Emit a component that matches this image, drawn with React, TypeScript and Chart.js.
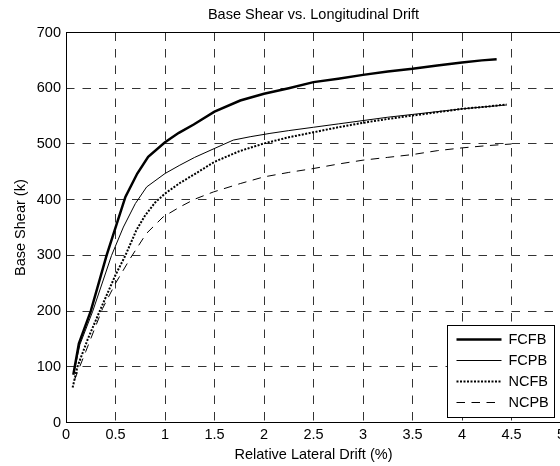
import React, { useEffect, useRef } from "react";
import { Chart, registerables } from "chart.js";

Chart.register(...registerables);

const TITLE = "Base Shear vs. Longitudinal Drift";
const X_TITLE = "Relative Lateral Drift (%)";
const Y_TITLE = "Base Shear (k)";

const SERIES_NAMES = ["FCFB", "FCPB", "NCFB", "NCPB"];

const X_MIN = 0;
const X_MAX = 5;
const X_STEP = 0.5;
const Y_MIN = 0;
const Y_MAX = 700;
const Y_STEP = 100;

const fcfbDrift = [0.074, 0.13, 0.25, 0.41, 0.6, 0.72, 0.83, 1.0, 1.14, 1.29, 1.5, 1.76, 2.0, 2.25, 2.5, 2.75, 3.0, 3.25, 3.5, 3.75, 4.0, 4.2, 4.35];
const fcfbShear = [86, 142, 200, 300, 405, 447, 477, 503, 520, 535, 558, 578, 590, 600, 611, 617, 624, 630, 635, 641, 646, 650, 652];

const fcpbDrift = [0.08, 0.14, 0.27, 0.46, 0.58, 0.7, 0.815, 1.0, 1.15, 1.3, 1.5, 1.69, 1.86, 2.06, 2.25, 2.5, 2.75, 3.0, 3.25, 3.5, 3.75, 4.0, 4.25, 4.45];
const fcpbShear = [90, 140, 200, 300, 351, 393, 423, 447, 462, 476, 492, 507, 513, 519, 524, 530, 536, 542, 548, 553, 558, 563, 567, 570];

const ncfbDrift = [0.067, 0.115, 0.22, 0.34, 0.5, 0.6, 0.71, 0.8, 0.9, 1.0, 1.15, 1.3, 1.5, 1.75, 2.0, 2.25, 2.5, 2.75, 3.0, 3.25, 3.5, 3.75, 4.0, 4.25, 4.45];
const ncfbShear = [63, 100, 150, 200, 265, 300, 345, 372, 395, 411, 430, 446, 468, 487, 501, 512, 521, 530, 538, 545, 551, 557, 563, 567, 571];

const ncpbDrift = [0.084, 0.2, 0.37, 0.5, 0.65, 0.81, 0.98, 1.15, 1.3, 1.49, 1.76, 2.0, 2.25, 2.5, 2.75, 3.0, 3.25, 3.5, 3.75, 4.0, 4.25, 4.5];
const ncpbShear = [76, 128, 205, 250, 295, 339, 369, 387, 401, 414, 429, 441, 449, 456, 464, 471, 476, 481, 488, 493, 497, 500];

const FONT = "'Liberation Sans', Arial, Helvetica, sans-serif";
const FS = 14.5;

function toPoints(xs: number[], ys: number[]) {
  return xs.map((x, i) => ({ x, y: ys[i] }));
}

const framePlugin = {
  id: "frameBox",
  afterDatasetsDraw(chart: any) {
    const { ctx, chartArea: a } = chart;
    ctx.save();
    ctx.setLineDash([]);
    ctx.strokeStyle = "#000";
    ctx.lineWidth = 1;
    const l = Math.floor(a.left) + 0.5;
    const t = Math.floor(a.top) + 0.5;
    const r = Math.floor(a.right) + 0.5;
    const b = Math.floor(a.bottom) + 0.5;
    ctx.strokeRect(l, t, r - l, b - t);
    ctx.restore();
  },
};

const legendPlugin = {
  id: "boxLegend",
  afterDraw(chart: any) {
    const { ctx, chartArea: a } = chart;
    const bx = Math.floor(a.right) - 114 + 0.5;
    const by = Math.floor(a.bottom) - 97 + 0.5;
    const bw = 107;
    const bh = 92;
    ctx.save();
    ctx.setLineDash([]);
    ctx.fillStyle = "#fff";
    ctx.fillRect(bx, by, bw, bh);
    ctx.strokeStyle = "#000";
    ctx.lineWidth = 1;
    ctx.strokeRect(bx, by, bw, bh);
    chart.data.datasets.forEach((ds: any, i: number) => {
      const y = Math.floor(by + 13.5 + i * 21) + 0.5;
      ctx.save();
      ctx.strokeStyle = ds.borderColor;
      ctx.lineWidth = ds.borderWidth;
      ctx.lineCap = "butt";
      ctx.setLineDash(ds.borderDash || []);
      ctx.beginPath();
      ctx.moveTo(bx + 9, y);
      ctx.lineTo(bx + 54, y);
      ctx.stroke();
      ctx.restore();
      ctx.fillStyle = "#000";
      ctx.font = `${FS}px ${FONT}`;
      ctx.textAlign = "left";
      ctx.textBaseline = "middle";
      ctx.fillText(ds.label, bx + 61, y);
    });
    ctx.restore();
  },
};

export default function App() {
  const canvasRef = useRef<HTMLCanvasElement | null>(null);

  useEffect(() => {
    const canvas = canvasRef.current;
    if (!canvas) return;
    const chart = new Chart(canvas, {
      type: "line",
      data: {
        datasets: [
          {
            label: SERIES_NAMES[0],
            data: toPoints(fcfbDrift, fcfbShear),
            borderColor: "#000",
            borderWidth: 2.5,
            borderDash: [],
            pointRadius: 0,
            tension: 0,
            fill: false,
          },
          {
            label: SERIES_NAMES[1],
            data: toPoints(fcpbDrift, fcpbShear),
            borderColor: "#000",
            borderWidth: 1,
            borderDash: [],
            pointRadius: 0,
            tension: 0,
            fill: false,
          },
          {
            label: SERIES_NAMES[2],
            data: toPoints(ncfbDrift, ncfbShear),
            borderColor: "#000",
            borderWidth: 2,
            borderDash: [2, 1.5],
            pointRadius: 0,
            tension: 0,
            fill: false,
          },
          {
            label: SERIES_NAMES[3],
            data: toPoints(ncpbDrift, ncpbShear),
            borderColor: "#000",
            borderWidth: 1,
            borderDash: [8.5, 6.5],
            pointRadius: 0,
            tension: 0,
            fill: false,
          },
        ],
      },
      options: {
        animation: false,
        responsive: false,
        devicePixelRatio: 1,
        layout: { padding: { left: 0, top: 0, right: 66, bottom: 0 } },
        plugins: {
          legend: { display: false },
          tooltip: { enabled: false },
          title: {
            display: true,
            fullSize: false,
            text: TITLE,
            color: "#000",
            font: { family: FONT, size: FS, weight: "normal" },
            padding: { top: 6.3, bottom: 8.8 },
          },
        },
        scales: {
          x: {
            type: "linear",
            min: X_MIN,
            max: X_MAX,
            ticks: {
              stepSize: X_STEP,
              autoSkip: false,
              maxRotation: 0,
              color: "#000",
              padding: 3.3,
              font: { family: FONT, size: FS },
              callback: (v: any) => String(Number(v)),
            },
            grid: { color: "#333", lineWidth: 1, drawTicks: false, tickLength: 0 },
            border: { display: false, dash: [8.5, 8] },
            title: {
              display: true,
              text: X_TITLE,
              color: "#000",
              font: { family: FONT, size: FS },
              padding: { top: 0, bottom: 2.3 },
            },
            afterFit: (scale: any) => {
              scale.height = 43.3;
            },
          },
          y: {
            type: "linear",
            min: Y_MIN,
            max: Y_MAX,
            ticks: {
              stepSize: Y_STEP,
              color: "#000",
              padding: 5,
              font: { family: FONT, size: FS },
            },
            grid: { color: "#333", lineWidth: 1, drawTicks: false, tickLength: 0 },
            border: { display: false, dash: [8.5, 8] },
            title: {
              display: true,
              text: Y_TITLE,
              color: "#000",
              font: { family: FONT, size: FS },
              padding: { top: 11.8, bottom: 0 },
            },
            afterFit: (scale: any) => {
              scale.width = 66;
            },
          },
        },
      } as any,
      plugins: [framePlugin, legendPlugin],
    });
    return () => chart.destroy();
  }, []);

  return (
    <div
      style={{
        position: "absolute",
        left: 0,
        top: 0,
        width: 560,
        height: 466,
        overflow: "hidden",
        background: "#fff",
      }}
    >
      <canvas ref={canvasRef} width={627} height={466} style={{ display: "block", width: 627, height: 466 }} />
    </div>
  );
}
